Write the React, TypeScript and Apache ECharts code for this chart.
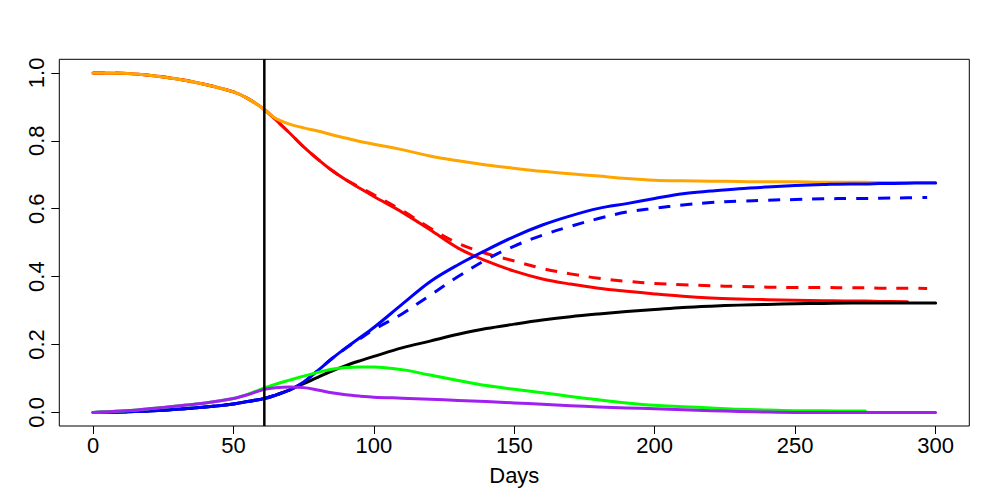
import React, { useEffect, useRef } from "react";
import * as echarts from "echarts";

const days = [0, 10, 20, 30, 40, 50, 55, 61, 65, 70, 75, 80, 85, 90, 95, 100, 110, 120, 130, 140, 150, 160, 170, 180, 190, 200, 210, 220, 230, 240, 250, 260, 270, 275, 280, 290, 297, 300];

const orange = [1.0, 0.999, 0.993, 0.982, 0.966, 0.944, 0.925, 0.892, 0.866, 0.849, 0.838, 0.829, 0.818, 0.808, 0.798, 0.79, 0.774, 0.755, 0.741, 0.729, 0.719, 0.71, 0.703, 0.696, 0.689, 0.684, 0.682, 0.681, 0.68, 0.679, 0.679, 0.678, 0.678, 0.678, 0.677, 0.677, 0.677, 0.677];

const redSolid = [1.0, 0.999, 0.993, 0.982, 0.966, 0.944, 0.925, 0.892, 0.862, 0.823, 0.782, 0.746, 0.713, 0.685, 0.66, 0.636, 0.59, 0.538, 0.484, 0.446, 0.416, 0.393, 0.378, 0.366, 0.357, 0.349, 0.342, 0.337, 0.334, 0.332, 0.33, 0.329, 0.328, 0.328, 0.327, 0.326, null, null];

const redDashed = [1.0, 0.999, 0.993, 0.982, 0.966, 0.944, 0.925, 0.892, 0.862, 0.823, 0.782, 0.746, 0.713, 0.686, 0.663, 0.641, 0.595, 0.543, 0.498, 0.468, 0.446, 0.424, 0.408, 0.395, 0.386, 0.38, 0.376, 0.373, 0.371, 0.369, 0.368, 0.368, 0.367, 0.367, 0.366, 0.366, 0.365, null];

const blueSolid = [0, 0.001, 0.004, 0.009, 0.016, 0.025, 0.032, 0.041, 0.051, 0.066, 0.09, 0.123, 0.158, 0.19, 0.22, 0.25, 0.318, 0.385, 0.435, 0.478, 0.518, 0.552, 0.579, 0.601, 0.615, 0.63, 0.644, 0.652, 0.659, 0.664, 0.668, 0.671, 0.673, 0.673, 0.674, 0.675, 0.676, 0.676];

const blueDashed = [0, 0.001, 0.004, 0.009, 0.016, 0.025, 0.032, 0.041, 0.051, 0.066, 0.09, 0.123, 0.158, 0.189, 0.217, 0.244, 0.29, 0.345, 0.4, 0.45, 0.49, 0.522, 0.548, 0.571, 0.59, 0.601, 0.611, 0.618, 0.622, 0.625, 0.627, 0.629, 0.63, 0.63, 0.631, 0.632, 0.633, null];

const black = [0, 0.001, 0.004, 0.009, 0.016, 0.025, 0.032, 0.041, 0.051, 0.066, 0.085, 0.103, 0.122, 0.138, 0.152, 0.165, 0.19, 0.21, 0.23, 0.247, 0.26, 0.272, 0.282, 0.29, 0.297, 0.303, 0.309, 0.313, 0.316, 0.318, 0.32, 0.321, 0.322, 0.322, 0.322, 0.322, 0.322, 0.322];

const green = [0, 0.004, 0.011, 0.019, 0.028, 0.041, 0.053, 0.072, 0.083, 0.095, 0.107, 0.118, 0.127, 0.132, 0.134, 0.134, 0.126, 0.11, 0.094, 0.079, 0.068, 0.058, 0.047, 0.037, 0.028, 0.021, 0.017, 0.013, 0.009, 0.007, 0.005, 0.005, 0.004, 0.004, null, null, null, null];

const purple = [0, 0.004, 0.011, 0.019, 0.028, 0.041, 0.052, 0.068, 0.073, 0.075, 0.073, 0.066, 0.058, 0.052, 0.048, 0.045, 0.042, 0.039, 0.035, 0.032, 0.028, 0.024, 0.02, 0.016, 0.013, 0.011, 0.008, 0.005, 0.003, 0.001, 0, 0, 0, 0, 0, 0, 0, 0];

const interventionDay = 61;
const xTickValues = [0, 50, 100, 150, 200, 250, 300];
const yTickValues = [0, 0.2, 0.4, 0.6, 0.8, 1.0];
const xRange = [-12, 312];
const yRange = [-0.04, 1.04];

const FONT = "'Liberation Sans', Arial, sans-serif";

function pairs(vals: (number | null)[]) {
  const out: [number, number][] = [];
  days.forEach((d, i) => {
    const v = vals[i];
    if (v !== null && v !== undefined) out.push([d, v]);
  });
  return out;
}

function lineSeries(name: string, vals: (number | null)[], color: string, dashed: boolean) {
  return {
    name,
    type: "line",
    data: pairs(vals),
    smooth: 0.35,
    showSymbol: false,
    symbol: "none",
    lineStyle: {
      color,
      width: 3,
      type: dashed ? [12, 10] : "solid",
      cap: dashed ? "butt" : "round",
      join: "round",
    },
  };
}

export default function App() {
  const ref = useRef<HTMLDivElement>(null);
  useEffect(() => {
    document.body.style.margin = "0";
    if (!ref.current) return;
    const chart = echarts.init(ref.current, null, { renderer: "svg" });
    const option = {
      animation: false,
      backgroundColor: "#ffffff",
      grid: {
        show: true,
        left: 59.3,
        right: 30.7,
        top: 59.3,
        bottom: 74,
        borderColor: "#000",
        borderWidth: 1,
        backgroundColor: "transparent",
      },
      xAxis: {
        type: "value",
        min: xRange[0],
        max: xRange[1],
        axisLine: { show: false, onZero: false },
        axisTick: {
          show: true,
          length: 8,
          customValues: xTickValues,
          lineStyle: { color: "#000", width: 1 },
        },
        axisLabel: {
          color: "#000",
          fontSize: 22,
          fontFamily: FONT,
          margin: 8,
          customValues: xTickValues,
        },
        splitLine: { show: false },
        name: "Days",
        nameLocation: "middle",
        nameGap: 38,
        nameTextStyle: { color: "#000", fontSize: 22, fontFamily: FONT },
      },
      yAxis: {
        type: "value",
        min: yRange[0],
        max: yRange[1],
        axisLine: { show: false, onZero: false },
        axisTick: {
          show: true,
          length: 8,
          customValues: yTickValues,
          lineStyle: { color: "#000", width: 1 },
        },
        axisLabel: {
          color: "#000",
          fontSize: 22,
          fontFamily: FONT,
          rotate: 90,
          margin: 12,
          customValues: yTickValues,
          formatter: (v: number) => v.toFixed(1),
        },
        splitLine: { show: false },
      },
      series: [
        lineSeries("S (model)", redSolid, "#FF0000", false),
        lineSeries("S (alt)", redDashed, "#FF0000", true),
        lineSeries("S total", orange, "#FFA500", false),
        lineSeries("D", black, "#000000", false),
        lineSeries("R (model)", blueSolid, "#0000FF", false),
        lineSeries("R (alt)", blueDashed, "#0000FF", true),
        lineSeries("I", green, "#00FF00", false),
        lineSeries("Q", purple, "#A020F0", false),
        {
          name: "intervention",
          type: "line",
          data: [
            [interventionDay, yRange[0]],
            [interventionDay, yRange[1]],
          ],
          showSymbol: false,
          symbol: "none",
          lineStyle: { color: "#000", width: 2.5 },
        },
      ],
    };
    chart.setOption(option as any);
    return () => chart.dispose();
  }, []);
  return <div ref={ref} style={{ width: 1000, height: 500 }} />;
}
